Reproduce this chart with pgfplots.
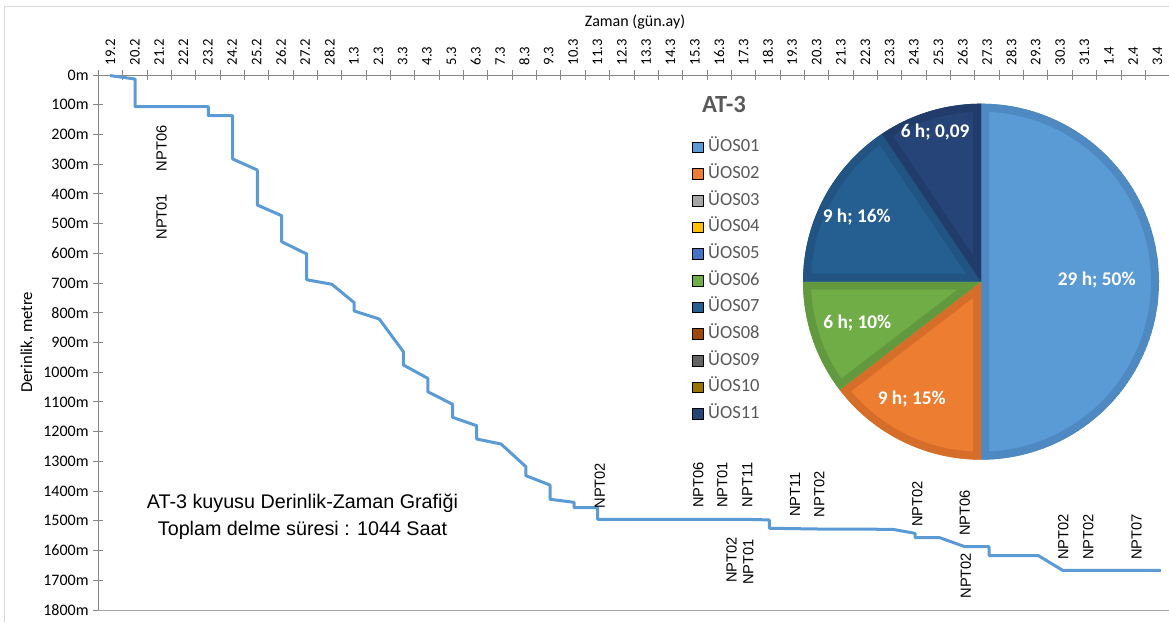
\documentclass[border=0pt]{standalone}
\usepackage{pgfplots}
\pgfplotsset{compat=1.18}
\usepackage{fontspec}
\setmainfont{Carlito}
\newfontfamily\arial{Liberation Sans}
\definecolor{lineblue}{HTML}{5B9BD5}
\definecolor{axisgray}{HTML}{868686}
\definecolor{bottomgray}{HTML}{A6A6A6}
\definecolor{bordergray}{HTML}{D9D9D9}
\definecolor{legtext}{HTML}{595959}
\definecolor{c01}{HTML}{5B9BD5}\definecolor{d01}{HTML}{4E89C1}
\definecolor{c02}{HTML}{ED7D31}\definecolor{d02}{HTML}{D66E2A}
\definecolor{c03}{HTML}{A5A5A5}
\definecolor{c04}{HTML}{FFC000}
\definecolor{c05}{HTML}{4472C4}
\definecolor{c06}{HTML}{70AD47}\definecolor{d06}{HTML}{63993E}
\definecolor{c07}{HTML}{255E91}\definecolor{d07}{HTML}{215482}
\definecolor{c08}{HTML}{9E480E}
\definecolor{c09}{HTML}{636363}
\definecolor{c10}{HTML}{997300}
\definecolor{c11}{HTML}{264478}\definecolor{d11}{HTML}{213C6B}

% depth (m) versus time (day index; label k sits at k+0.5)
\pgfplotstableread{
x y
0.48 2
1.51 13.5
1.51 106.7
4.52 106.7
4.52 137
5.52 137
5.52 282.6
6.53 319.6
6.53 437.4
7.53 473.4
7.53 560.9
8.56 602.3
8.56 689
9.59 704
10.51 766
10.51 794
11.54 821
12.53 931
12.53 975.7
13.53 1020.5
13.53 1065.5
14.55 1108
14.55 1151.7
15.54 1180
15.54 1224.7
16.54 1241.5
17.56 1317.9
17.56 1348
18.55 1379.5
18.55 1427.6
19.54 1437.7
19.54 1455.8
20.51 1455.8
20.51 1494.9
26.59 1494.9
27.56 1497
27.56 1525
29.57 1527.5
32.62 1528.5
33.54 1542
33.54 1556.8
34.56 1556.8
35.59 1587
36.58 1587
36.58 1616.7
38.6 1616.7
39.6 1666.4
43.64 1666.4
}\depthdata

% pie shares (percent): UOS01, UOS02, UOS06, UOS07, UOS11
\def\pA{50}\def\pB{14.6}\def\pC{10.4}\def\pD{15.6}\def\pE{9.4}
\def\R{133.5pt}

\newcommand{\slice}[4]{%
  \begin{scope}
    \clip (axis cs:0,0) -- ++(#1:\R) arc[start angle=#1,end angle=#2,radius=\R] -- cycle;
    \filldraw[fill=#3,draw=#4,line width=12pt] (axis cs:0,0) -- ++(#1:\R) arc[start angle=#1,end angle=#2,radius=\R] -- cycle;
  \end{scope}}

\begin{document}
\begin{tikzpicture}
\pgfmathsetmacro\aA{90}
\pgfmathsetmacro\aB{\aA-3.6*\pA}
\pgfmathsetmacro\aC{\aB-3.6*\pB}
\pgfmathsetmacro\aD{\aC-3.6*\pC}
\pgfmathsetmacro\aE{\aD-3.6*\pD}
\pgfmathsetmacro\aF{\aE-3.6*\pE}
\useasboundingbox (0,0) rectangle (876.75pt,466.5pt);

\begin{scope}[shift={(0pt,466.5pt)},x=0.75pt,y=-0.75pt]
  \draw[bordergray,line width=0.75pt] (4,622) -- (4,6.5) -- (1169,6.5);
  \node[anchor=base,font=\fontsize{12pt}{14pt}\selectfont] at (635,27) {Zaman (gün.ay)};
  \node[rotate=90,font=\fontsize{12.5pt}{15pt}\selectfont] at (27.5,342.3) {Derinlik, metre};
  \node[font=\fontsize{18.5pt}{22pt}\selectfont\bfseries,text=legtext] at (724,104.3) {AT-3};
  \node[anchor=base,font=\arial\fontsize{14.8pt}{17pt}\selectfont] at (302.4,508.3) {AT-3 kuyusu Derinlik-Zaman Grafiği};
  \node[anchor=base,font=\arial\fontsize{14.8pt}{17pt}\selectfont] at (302.5,535) {Toplam delme süresi : 1044 Saat};
\end{scope}

\begin{axis}[
  at={(73.725pt,410.25pt)}, anchor=north west,
  scale only axis, width=803.55pt, height=401.25pt,
  xmin=0, xmax=44, ymin=0, ymax=1800, y dir=reverse,
  axis x line*=top, axis y line*=left,
  axis line style={-, draw=axisgray, line width=0.75pt},
  tick align=center, major tick length=7.5pt, minor tick length=7.5pt,
  tick style={draw=axisgray, line width=0.75pt},
  xtick={0.5,1.5,...,43.5},
  xticklabels={19.2,20.2,21.2,22.2,23.2,24.2,25.2,26.2,27.2,28.2,1.3,2.3,3.3,4.3,5.3,6.3,7.3,8.3,9.3,10.3,11.3,12.3,13.3,14.3,15.3,16.3,17.3,18.3,19.3,20.3,21.3,22.3,23.3,24.3,25.3,26.3,27.3,28.3,29.3,30.3,31.3,1.4,2.4,3.4},
  major x tick style={draw=none},
  minor xtick={0,1,...,44},
  xticklabel style={font=\fontsize{11pt}{13pt}\selectfont, rotate=90, anchor=west},
  ytick={0,100,...,1800},
  yticklabels={0m,100m,200m,300m,400m,500m,600m,700m,800m,900m,1000m,1100m,1200m,1300m,1400m,1500m,1600m,1700m,1800m},
  yticklabel style={font=\fontsize{12pt}{14pt}\selectfont},
  clip=false,
]
\draw[bottomgray,line width=0.75pt] (axis cs:0,1800) -- (axis cs:44,1800);
\addplot[lineblue, line width=2.25pt, line join=round, mark=none] table[x=x,y=y] {\depthdata};
\begin{scope}[every node/.style={rotate=90,font=\arial\fontsize{11pt}{13pt}\selectfont}]
\node at (axis cs:2.60,246.6) {NPT06};
\node at (axis cs:2.60,476.7) {NPT01};
\node at (axis cs:20.60,1381.8) {NPT02};
\node at (axis cs:24.64,1379.5) {NPT06};
\node at (axis cs:25.63,1379.5) {NPT01};
\node at (axis cs:26.65,1379.5) {NPT11};
\node at (axis cs:28.61,1411.4) {NPT11};
\node at (axis cs:29.61,1411.4) {NPT02};
\node at (axis cs:33.63,1443.4) {NPT02};
\node at (axis cs:35.59,1473.7) {NPT06};
\node at (axis cs:26.01,1631.8) {NPT02};
\node at (axis cs:26.69,1638.5) {NPT01};
\node at (axis cs:35.63,1684.6) {NPT02};
\node at (axis cs:39.63,1554.4) {NPT02};
\node at (axis cs:40.66,1554.4) {NPT02};
\node at (axis cs:42.64,1554.4) {NPT07};
\end{scope}
\end{axis}

\begin{axis}[
  at={(735.75pt,255.225pt)}, anchor=origin,
  scale only axis, width=267pt, height=267pt,
  xmin=-1, xmax=1, ymin=-1, ymax=1, hide axis, clip=false,
  legend image code/.code={\fill[#1] (0pt,-4pt) rectangle (8pt,4pt);},
  legend style={draw=none, fill=none, inner sep=0pt, at={(-0.3118,0.9065)}, anchor=north west,
    font=\fontsize{13.9pt}{16pt}\selectfont, text=legtext, row sep=5pt, column sep=2.5pt,
    nodes={inner sep=1pt, text height=10pt, text depth=3pt}},
  legend cell align=left,
]
\pgfplotsextra{%
\slice{\aA}{\aB}{c01}{d01}
\slice{\aB}{\aC}{c02}{d02}
\slice{\aC}{\aD}{c06}{d06}
\slice{\aD}{\aE}{c07}{d07}
\slice{\aE}{\aF}{c11}{d11}
}
\begin{scope}[every node/.style={text=white,font=\fontsize{14.5pt}{17pt}\selectfont\bfseries}]
\node at (axis cs:0.65,0.01) {29 h; 50\%};
\node at (axis cs:-0.389,-0.661) {9 h; 15\%};
\node at (axis cs:-0.695,-0.234) {6 h; 10\%};
\node at (axis cs:-0.698,0.365) {9 h; 16\%};
\node at (axis cs:-0.258,0.843) {6 h; 0,09};
\end{scope}
\addlegendimage{fill=c01}\addlegendentry{ÜOS01}
\addlegendimage{fill=c02}\addlegendentry{ÜOS02}
\addlegendimage{fill=c03}\addlegendentry{ÜOS03}
\addlegendimage{fill=c04}\addlegendentry{ÜOS04}
\addlegendimage{fill=c05}\addlegendentry{ÜOS05}
\addlegendimage{fill=c06}\addlegendentry{ÜOS06}
\addlegendimage{fill=c07}\addlegendentry{ÜOS07}
\addlegendimage{fill=c08}\addlegendentry{ÜOS08}
\addlegendimage{fill=c09}\addlegendentry{ÜOS09}
\addlegendimage{fill=c10}\addlegendentry{ÜOS10}
\addlegendimage{fill=c11}\addlegendentry{ÜOS11}
\end{axis}
\end{tikzpicture}
\end{document}
